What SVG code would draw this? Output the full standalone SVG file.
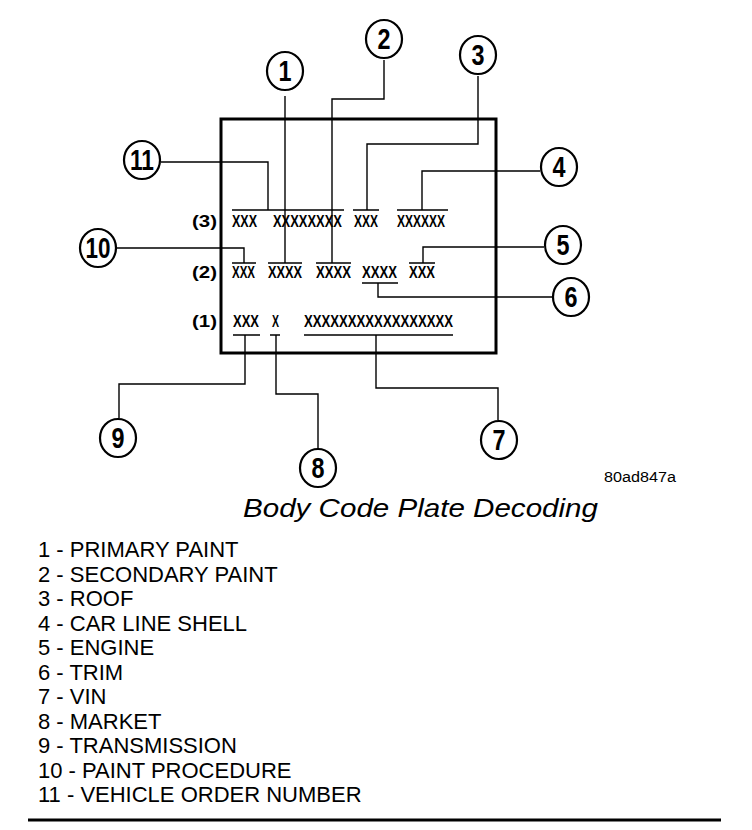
<svg xmlns="http://www.w3.org/2000/svg" width="752" height="830" viewBox="0 0 752 830">
<style>
.c{fill:#fff;stroke:#000;stroke-width:2.2}
.n{font-family:"Liberation Sans",Arial,sans-serif;font-weight:bold;font-size:29px;text-anchor:middle;fill:#000}
.ln{fill:none;stroke:#000;stroke-width:1.4}
.ul{stroke:#000;stroke-width:1.3}
.px{font-family:"Liberation Sans",Arial,sans-serif;font-weight:bold;font-size:17px;fill:#000}
.lg{font-family:"Liberation Sans",Arial,sans-serif;font-size:22px;fill:#000}
</style>
<rect width="752" height="830" fill="#fff"/>
<g id="plate">
<rect x="221" y="119" width="275" height="234" fill="none" stroke="#000" stroke-width="3"/>
<text class="px" x="192" y="227" textLength="25" lengthAdjust="spacingAndGlyphs">(3)</text>
<text class="px" x="232" y="227" textLength="25" lengthAdjust="spacingAndGlyphs">XXX</text>
<text class="px" transform="translate(273,227) scale(0.76,1)" x="0" y="0">XXXXXXXX</text>
<text class="px" x="354" y="227" textLength="24" lengthAdjust="spacingAndGlyphs">XXX</text>
<text class="px" x="397" y="227" textLength="48" lengthAdjust="spacingAndGlyphs">XXXXXX</text>
<text class="px" x="192" y="278" textLength="25" lengthAdjust="spacingAndGlyphs">(2)</text>
<text class="px" x="232" y="278" textLength="23" lengthAdjust="spacingAndGlyphs">XXX</text>
<text class="px" x="268" y="278" textLength="34" lengthAdjust="spacingAndGlyphs">XXXX</text>
<text class="px" x="316" y="278" textLength="35" lengthAdjust="spacingAndGlyphs">XXXX</text>
<text class="px" x="362" y="278" textLength="35" lengthAdjust="spacingAndGlyphs">XXXX</text>
<text class="px" x="409" y="278" textLength="26" lengthAdjust="spacingAndGlyphs">XXX</text>
<text class="px" x="192" y="327" textLength="25" lengthAdjust="spacingAndGlyphs">(1)</text>
<text class="px" x="233" y="327" textLength="26" lengthAdjust="spacingAndGlyphs">XXX</text>
<text class="px" x="272" y="327" textLength="7" lengthAdjust="spacingAndGlyphs">X</text>
<text class="px" x="304" y="327" textLength="149" lengthAdjust="spacingAndGlyphs">XXXXXXXXXXXXXXXXX</text>
<path class="ul" d="M232,210H344M353,210H379M397,210H448M232,263H256M268,263H302M316,263H351M409,263H435M362,283H398M233,335H260M270,335H280M304,335H453"/>
</g>
<g id="connectors">
<path class="ln" d="M285,96V263"/>
<path class="ln" d="M384,60V99H332V263"/>
<path class="ln" d="M478,76V144H367V210"/>
<path class="ln" d="M540,171H422V210"/>
<path class="ln" d="M544,247H423V263"/>
<path class="ln" d="M552,297H378V283"/>
<path class="ln" d="M376,335V388H498V420"/>
<path class="ln" d="M276,335V394H318V448"/>
<path class="ln" d="M245,335V384H119V418"/>
<path class="ln" d="M117,248H244V263"/>
<path class="ln" d="M161,162H268V210"/>
</g>
<g id="n1"><ellipse class="c" cx="285" cy="71" rx="18" ry="19"/><text class="n" x="285" y="81" textLength="13" lengthAdjust="spacingAndGlyphs">1</text></g>
<g id="n2"><ellipse class="c" cx="384" cy="39" rx="18" ry="19"/><text class="n" x="384" y="49" textLength="13" lengthAdjust="spacingAndGlyphs">2</text></g>
<g id="n3"><ellipse class="c" cx="478" cy="55" rx="18" ry="19"/><text class="n" x="478" y="65" textLength="13" lengthAdjust="spacingAndGlyphs">3</text></g>
<g id="n4"><ellipse class="c" cx="559" cy="167" rx="18" ry="19"/><text class="n" x="559" y="177" textLength="13" lengthAdjust="spacingAndGlyphs">4</text></g>
<g id="n5"><ellipse class="c" cx="563" cy="245" rx="18" ry="19"/><text class="n" x="563" y="255" textLength="13" lengthAdjust="spacingAndGlyphs">5</text></g>
<g id="n6"><ellipse class="c" cx="571" cy="297" rx="18" ry="19"/><text class="n" x="571" y="307" textLength="13" lengthAdjust="spacingAndGlyphs">6</text></g>
<g id="n7"><ellipse class="c" cx="499" cy="440" rx="18" ry="19"/><text class="n" x="499" y="450" textLength="13" lengthAdjust="spacingAndGlyphs">7</text></g>
<g id="n8"><ellipse class="c" cx="318" cy="468" rx="18" ry="19"/><text class="n" x="318" y="478" textLength="13" lengthAdjust="spacingAndGlyphs">8</text></g>
<g id="n9"><ellipse class="c" cx="118" cy="438" rx="18" ry="19"/><text class="n" x="118" y="448" textLength="13" lengthAdjust="spacingAndGlyphs">9</text></g>
<g id="n10"><ellipse class="c" cx="98" cy="248" rx="18" ry="19"/><text class="n" x="98" y="258" textLength="25" lengthAdjust="spacingAndGlyphs">10</text></g>
<g id="n11"><ellipse class="c" cx="142" cy="160" rx="18" ry="19"/><text class="n" x="142" y="170" textLength="24" lengthAdjust="spacingAndGlyphs">11</text></g>
<g id="caption">
<text x="604" y="482" font-family="Liberation Sans,Arial,sans-serif" font-size="14" textLength="72" lengthAdjust="spacingAndGlyphs">80ad847a</text>
<text x="243" y="517" font-family="Liberation Sans,Arial,sans-serif" font-style="italic" font-size="25" textLength="355" lengthAdjust="spacingAndGlyphs">Body Code Plate Decoding</text>
</g>
<g id="legend" class="lg">
<text x="38" y="557">1 - PRIMARY PAINT</text>
<text x="38" y="581.5">2 - SECONDARY PAINT</text>
<text x="38" y="606">3 - ROOF</text>
<text x="38" y="630.5">4 - CAR LINE SHELL</text>
<text x="38" y="655">5 - ENGINE</text>
<text x="38" y="679.5">6 - TRIM</text>
<text x="38" y="704">7 - VIN</text>
<text x="38" y="728.5">8 - MARKET</text>
<text x="38" y="753">9 - TRANSMISSION</text>
<text x="38" y="777.5">10 - PAINT PROCEDURE</text>
<text x="38" y="802">11 - VEHICLE ORDER NUMBER</text>
</g>
<path d="M28,820H721" stroke="#000" stroke-width="3"/>
</svg>
